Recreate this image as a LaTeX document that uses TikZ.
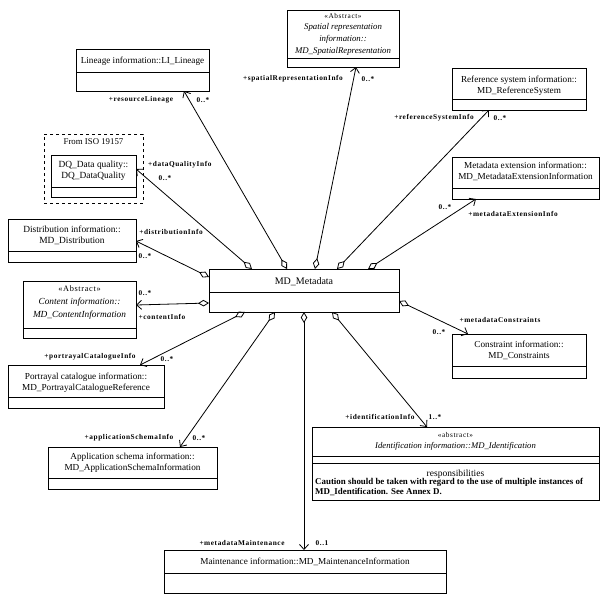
\documentclass[tikz,border=0pt]{standalone}
\usepackage{fontspec}
\setmainfont{Liberation Serif}
\newfontfamily\lblfont[LetterSpace=8]{Liberation Serif}
\usetikzlibrary{arrows.meta,calc}
\begin{document}
\begin{tikzpicture}[x=1pt,y=-1pt,
  classbox/.style={draw, line width=0.9pt, inner sep=0pt, outer sep=0pt},
  classline/.style={line width=0.9pt},
  ctext/.style={font=\fontsize{9.2}{11}\selectfont, align=center, inner sep=0pt},
  lbl/.style={font=\lblfont\fontsize{7.3}{8}\selectfont\bfseries, inner sep=0pt},
  assoc/.style={line width=0.8pt, {Diamond[open,length=11pt,width=6.5pt,line width=0.8pt]}-{Straight Barb[length=5pt,width=9pt,line width=0.8pt]}}
]
\useasboundingbox[fill=white] (0,0) rectangle (609,598);
\newcommand\umlbox[6]{%
  \node[classbox, minimum width={(#4-#2)*1pt}, minimum height={(#5-#3)*1pt}] (#1) at ({(#2+#4)/2},{(#3+#5)/2}) {};
  \draw[classline] (#2,#6) -- (#4,#6);
}
% class boxes
\umlbox{lin}{76}{49}{209}{91}{72}
\umlbox{spa}{287}{10}{399}{67}{58}
\umlbox{ref}{452}{68}{586}{110}{99}
\umlbox{ext}{452}{157}{599}{199}{188}
\node[draw, dashed, line width=0.8pt, minimum width=99pt, minimum height=69pt, inner sep=0pt, outer sep=0pt] (pkg) at (93.5,168.5) {};
\umlbox{dq}{51}{155}{136}{197}{187}
\umlbox{dis}{8}{219}{136}{262}{251}
\umlbox{con}{23}{281}{136}{338}{328}
\umlbox{md}{209}{269}{399}{312}{292}
\umlbox{cst}{452}{334}{586}{378}{366}
\umlbox{por}{8}{365}{164}{408}{397}
\umlbox{app}{48}{447}{217}{489}{478}
\umlbox{mai}{164}{550}{446}{593}{573}
\umlbox{ide}{312}{427}{599}{500}{456}
\draw[classline] (312,463) -- (599,463);
% texts
\node[ctext] (lint) at (142.5,61) {Lineage information::LI\_Lineage};
\node[ctext, font=\fontsize{8.8}{11.6}\selectfont] (spat) at (343,34) {{\lblfont\fontsize{7.3}{11}\selectfont «Abstract»}\\ \itshape Spatial representation\\ \itshape information::\\ \itshape MD\_SpatialRepresentation};
\node[ctext] (reft) at (519,85.5) {Reference system information::\\ MD\_ReferenceSystem};
\node[ctext] (extt) at (525.5,171) {Metadata extension information::\\ MD\_MetadataExtensionInformation};
\node[ctext, font=\fontsize{8.8}{10}\selectfont] (pkgt) at (93.5,141.5) {From ISO 19157};
\node[ctext, font=\fontsize{9.4}{11}\selectfont] (dqt) at (93.5,170.5) {DQ\_Data quality::\\ DQ\_DataQuality};
\node[ctext, font=\fontsize{9.4}{11}\selectfont] (dist) at (72,235.5) {Distribution information::\\ MD\_Distribution};
\node[ctext, font=\fontsize{9.3}{13}\selectfont] (cont) at (79.5,303) {{\lblfont\fontsize{8.3}{13}\selectfont «Abstract»}\\ \itshape Content information::\\ \itshape MD\_ContentInformation};
\node[ctext, font=\fontsize{10}{11}\selectfont] (mdt) at (304,282) {MD\_Metadata};
\node[ctext] (cstt) at (519,350.5) {Constraint information::\\ MD\_Constraints};
\node[ctext] (port) at (86,382.5) {Portrayal catalogue information::\\ MD\_PortrayalCatalogueReference};
\node[ctext] (appt) at (132.5,462.5) {Application schema information::\\ MD\_ApplicationSchemaInformation};
\node[ctext] (mait) at (305,562) {Maintenance information::MD\_MaintenanceInformation};
\node[ctext, font=\fontsize{8.7}{11}\selectfont] (idet) at (455.5,441.5) {{\lblfont\fontsize{7.3}{11}\selectfont «abstract»}\\ \itshape Identification information::MD\_Identification};
\node[ctext, font=\fontsize{9.5}{11}\selectfont] (resp) at (455.5,474) {responsibilities};
\node[ctext, font=\fontsize{8.9}{9.5}\selectfont\bfseries, align=left, anchor=north west] (caut) at (315,478.5) {Caution should be taken with regard to the use of multiple instances of\\ MD\_Identification. See Annex D.};
% associations
\draw[assoc] ([xshift=78pt]md.north west) -- ([xshift=108pt]lin.south west);
\draw[assoc] ([xshift=43pt]md.north west) -- ([yshift=-14pt]dq.north east);
\draw[assoc] ([xshift=106pt]md.north west) -- ([xshift=69pt]spa.south west);
\draw[assoc] ([xshift=128pt]md.north west) -- ([xshift=37pt]ref.south west);
\draw[assoc] ([xshift=159pt]md.north west) -- ([xshift=24pt]ext.south west);
\draw[assoc] ([yshift=-8pt]md.north west) -- ([yshift=21pt]dis.south east);
\draw[assoc] ([yshift=-34pt]md.north west) -- ([yshift=-24pt]con.north east);
\draw[assoc] ([yshift=-32pt]md.north east) -- ([xshift=16pt]cst.north west);
\draw[assoc] ([xshift=36pt]md.south west) -- ([xshift=132pt]por.north west);
\draw[assoc] ([xshift=66pt]md.south west) -- ([xshift=132pt]app.north west);
\draw[assoc] ([xshift=95pt]md.south west) -- ([xshift=140pt]mai.north west);
\draw[assoc] ([xshift=123pt]md.south west) -- ([xshift=115pt]ide.north west);
% role labels and multiplicities
\node[lbl] (l1) at (141,100) {+resourceLineage};
\node[lbl] (m1) at (203,100) {0..*};
\node[lbl, anchor=west] (l2) at (148,165) {+dataQualityInfo};
\node[lbl] (m2) at (165,178) {0..*};
\node[lbl] (l3) at (293,79) {+spatialRepresentationInfo};
\node[lbl] (m3) at (368,79) {0..*};
\node[lbl] (l4) at (434,118) {+referenceSystemInfo};
\node[lbl] (m4) at (500,118) {0..*};
\node[lbl] (m5) at (445,207) {0..*};
\node[lbl] (l5) at (513,214) {+metadataExtensionInfo};
\node[lbl] (l6) at (171,232) {+distributionInfo};
\node[lbl] (m6) at (145,256) {0..*};
\node[lbl] (m7) at (145,293) {0..*};
\node[lbl] (l7) at (162,317) {+contentInfo};
\node[lbl] (l8) at (500,320) {+metadataConstraints};
\node[lbl] (m8) at (439,332) {0..*};
\node[lbl] (l9) at (90,357) {+portrayalCatalogueInfo};
\node[lbl] (m9) at (167,359) {0..*};
\node[lbl] (l10) at (129,438) {+applicationSchemaInfo};
\node[lbl] (m10) at (199,438) {0..*};
\node[lbl] (l11) at (242,543) {+metadataMaintenance};
\node[lbl] (m11) at (322,543) {0..1};
\node[lbl] (l12) at (380,417) {+identificationInfo};
\node[lbl] (m12) at (435,417) {1..*};
\end{tikzpicture}
\end{document}
